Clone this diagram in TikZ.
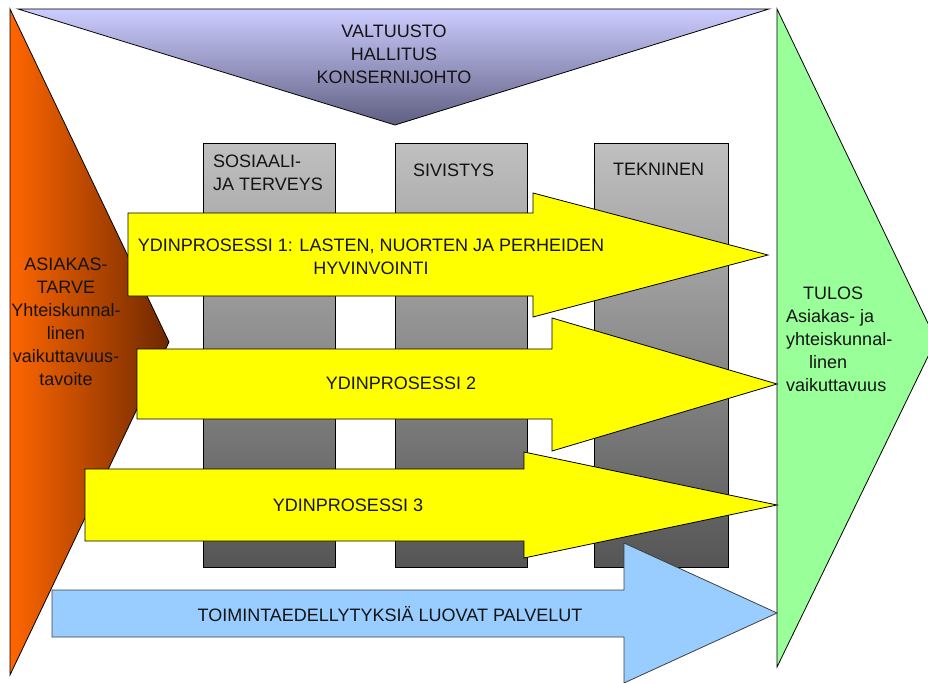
\documentclass[tikz,border=0pt]{standalone}
\usepackage{fontspec}
\setmainfont{Liberation Sans}
\definecolor{lav}{RGB}{204,204,255}
\definecolor{lavdark}{RGB}{95,95,130}
\definecolor{orA}{RGB}{255,102,0}
\definecolor{orB}{RGB}{232,92,0}
\definecolor{orC}{RGB}{110,40,0}
\definecolor{grA}{RGB}{192,192,192}
\definecolor{grB}{RGB}{85,85,85}
\definecolor{yel}{RGB}{255,255,0}
\definecolor{blu}{RGB}{153,204,255}
\definecolor{grn}{RGB}{153,255,153}
\definecolor{txt}{RGB}{20,20,20}
\begin{document}
\begin{tikzpicture}[x=1pt,y=-1pt,
  outl/.style={draw=black,line width=0.8pt,line join=miter},
  col/.style={outl,top color=grA,bottom color=grB},
  yarrow/.style={outl,fill=yel},
  barrow/.style={draw=black!75,line width=0.8pt,fill=blu},
  lbl/.style={font=\fontsize{18}{23}\selectfont,text=txt,inner sep=0pt,align=center},
  llbl/.style={lbl,align=left,anchor=west}]
\useasboundingbox (0,0) rectangle (928,682);
\clip (0,0) rectangle (928,682);
% top triangle
\draw[outl,top color=lav,bottom color=lavdark] (18,9) -- (769,9) -- (395,125) -- cycle;
% left orange
\draw[outl,left color=orA,middle color=orB,right color=orC] (10,9) -- (169,342) -- (10,675) -- cycle;
% right green
\draw[outl,fill=grn] (777,9) -- (936,340) -- (777,667) -- cycle;
% columns
\draw[col] (203,143) rectangle (335,567);
\draw[col] (395,143) rectangle (527,567);
\draw[col] (594,143) rectangle (728,567);
% yellow arrows
\draw[yarrow] (128,213) -- (533,213) -- (533,193) -- (768,255) -- (533,317) -- (533,296) -- (128,296) -- cycle;
\draw[yarrow] (137,349) -- (552,349) -- (552,318) -- (777,384) -- (552,451) -- (552,419) -- (137,419) -- cycle;
\draw[yarrow] (85,469) -- (524,469) -- (524,452) -- (777,505) -- (524,558) -- (524,541) -- (85,541) -- cycle;
% blue arrow
\draw[barrow] (52,590) -- (624,590) -- (624,543) -- (777,613) -- (624,683) -- (624,637) -- (52,637) -- cycle;
% texts
\node[lbl] (top) at (394,54) {VALTUUSTO\\HALLITUS\\KONSERNIJOHTO};
\node[lbl] (left) at (66,322) {ASIAKAS-\\TARVE\\Yhteiskunnal-\\linen\\vaikuttavuus-\\tavoite};
\node[llbl] (right) at (786,339.5) {\hspace*{17pt}TULOS\\Asiakas- ja\\yhteiskunnal-\\\hspace*{23pt}linen\\vaikuttavuus};
\node[llbl] (c1) at (213,172.5) {SOSIAALI-\\JA TERVEYS};
\node[llbl] (c2) at (413,170) {SIVISTYS};
\node[llbl] (c3) at (613,169) {TEKNINEN};
\node[lbl] (y1) at (371,256.5) {YDINPROSESSI 1: LASTEN, NUORTEN JA PERHEIDEN\\HYVINVOINTI};
\node[lbl] (y2) at (401,383) {YDINPROSESSI 2};
\node[lbl] (y3) at (348,505) {YDINPROSESSI 3};
\node[lbl] (b1) at (390,614) {TOIMINTAEDELLYTYKSIÄ LUOVAT PALVELUT};
\end{tikzpicture}
\end{document}
